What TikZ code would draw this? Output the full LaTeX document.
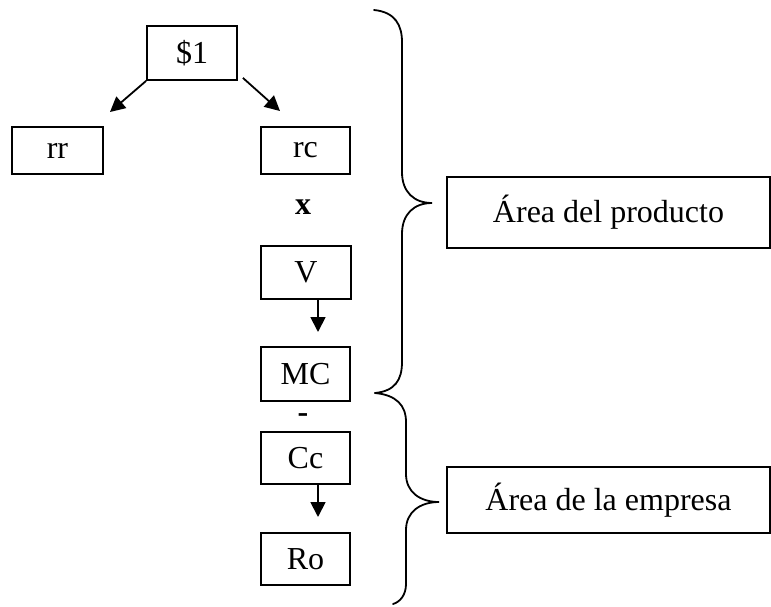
\documentclass[tikz,border=0pt]{standalone}
\usepackage{fontspec}
\setmainfont{Liberation Serif}
\usetikzlibrary{arrows.meta}
\begin{document}
\begin{tikzpicture}[x=1pt,y=-1pt,
  every node/.style={font=\fontsize{32}{36}\selectfont},
  boxnode/.style={draw,line width=1.8pt,inner sep=0pt,anchor=center},
  conn/.style={line width=1.8pt,-{Triangle[length=15pt,width=15pt]}},
  bracepath/.style={line width=1.8pt,line cap=round}]
\useasboundingbox (0,0) rectangle (771,606);
\node[boxnode,minimum width=90pt,minimum height=54pt] (s1) at (192,53) {\$1};
\node[boxnode,minimum width=91pt,minimum height=47pt] (rr) at (57.5,150.5) {rr};
\node[boxnode,minimum width=89pt,minimum height=47pt] (rc) at (305.5,150.5) {rc};
\node (times) at (303,207) {\bfseries x};
\node[boxnode,minimum width=90pt,minimum height=53pt] (V) at (306,272.5) {V};
\node[boxnode,minimum width=89pt,minimum height=54pt] (MC) at (305.5,374) {MC};
\node (minus) at (303,418) {\bfseries -};
\node[boxnode,minimum width=89pt,minimum height=52pt] (Cc) at (305.5,458) {Cc};
\node[boxnode,minimum width=89pt,minimum height=52pt] (Ro) at (305.5,559) {Ro};
\node[boxnode,minimum width=323pt,minimum height=71pt] (AP) at (608.5,212.5) {Área del producto};
\node[boxnode,minimum width=323pt,minimum height=66pt] (AE) at (608.5,500) {Área de la empresa};
\coordinate (tl) at (110,112);
\coordinate (tr) at (280,111);
\coordinate (tv) at (318,332);
\coordinate (tc) at (318,517);
\draw[conn] (s1.south west) -- (tl);
\draw[conn] (s1.south east) ++(5,-3) coordinate (se) (se) -- (tr);
\draw[conn] (V.south) ++(12,0) coordinate (vs) (vs) -- (tv);
\draw[conn] (Cc.south) ++(12.5,0) coordinate (cs) (cs) -- (tc);
\coordinate (b1top) at (374,10);
\coordinate (b1tip) at (432,203);
\coordinate (b1bot) at (375,393);
\coordinate (b2bot) at (393,604);
\coordinate (b2tip) at (439,502);
\draw[bracepath] (b1top) .. controls (395,12) and (402,25) .. (402,42)
  -- (402,172) .. controls (402,192) and (414,203) .. (b1tip)
  .. controls (414,203) and (402,214) .. (402,234)
  -- (402,362) .. controls (402,380) and (395,391) .. (b1bot);
\draw[bracepath] (b1bot) .. controls (396,395) and (406,405) .. (406,422)
  -- (406,474) .. controls (406,492) and (420,502) .. (b2tip)
  .. controls (420,502) and (406,512) .. (406,530)
  -- (406,584) .. controls (406,595) and (400,602) .. (b2bot);
\end{tikzpicture}
\end{document}
